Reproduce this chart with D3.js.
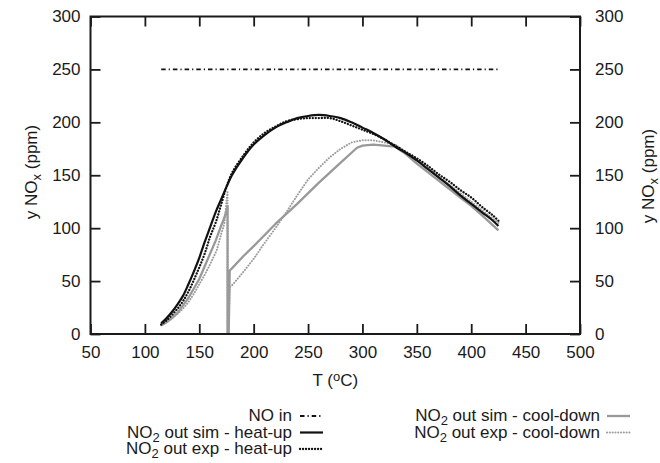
<!DOCTYPE html>
<html>
<head>
<meta charset="utf-8">
<script src="https://cdn.jsdelivr.net/npm/d3@7/dist/d3.min.js"></script>
<style>
  body { margin: 0; background: #fff; }
  text { font-family: "Liberation Sans", Arial, Helvetica, sans-serif; fill: #1a1a1a; }
</style>
</head>
<body>
<div id="wrapper"></div>
<script>
// values: [T (°C), y NOx (ppm)]
const noIn = [[115, 250], [425, 250]];

const simHeatUp = [[115,10],[120,15],[125,21],[130,28],[135,36],[140,47],[145,59],[150,72],[155,87],
  [160,101],[165,115],[170,127],[175,139],[180,150],[190,166],[200,179],[210,188],[220,195],[230,200],
  [240,204],[250,206],[260,207],[270,206],[280,204],[290,200],[300,195],[310,190],[320,184],[330,177],
  [340,171],[350,164],[360,156],[370,148],[380,140],[390,131],[400,123],[410,115],[420,107],[425,102]];

const expHeatUp = [[115,9],[120,13],[125,18],[130,24],[135,31],[140,40],[145,51],[150,63],[155,76],
  [160,92],[165,105],[170,122],[175,139],[180,152],[190,168],[200,181],[210,190],[220,196],[230,201],
  [240,203],[250,204],[260,204],[270,204],[280,201],[290,197],[300,193],[310,189],[320,184],[330,178],
  [340,172],[350,166],[360,159],[370,151],[380,144],[390,136],[400,129],[410,120],[420,112],[425,107]];

const simCoolDown = [[425,98],[410,112],[400,121],[390,129],[380,137],[370,145],[360,153],[350,161],
  [340,170],[330,177],[320,178],[310,179],[300,178],[295,176],[280,162],[260,143],[240,123],[220,104],
  [200,83],[190,73],[180,62],[178,60],[177,0],[176,0],[176,121],[175,116],[172,107],[170,102],[165,88],
  [160,76],[155,64],[150,52],[145,43],[140,34],[135,27],[130,20],[125,15],[120,11],[115,8]];

const expCoolDown = [[425,105],[410,117],[400,125],[390,133],[380,141],[370,149],[360,157],[350,164],
  [340,172],[330,179],[320,181],[310,183],[300,183],[290,181],[280,175],[270,167],[260,157],[250,146],
  [240,131],[230,115],[220,100],[210,86],[200,71],[190,58],[181,47],[178,44],[177,0],[176,0],[176,134],
  [175,125],[173,104],[170,94],[166,79],[160,66],[155,56],[150,47],[145,38],[140,30],[135,24],[130,19],
  [123,14],[115,8]];

const xTicks = [50, 100, 150, 200, 250, 300, 350, 400, 450, 500];
const yTicks = [0, 50, 100, 150, 200, 250, 300];

const legendLeft = ["NO in", "NO_2 out sim - heat-up", "NO_2 out exp - heat-up"];
const legendRight = ["NO_2 out sim - cool-down", "NO_2 out exp - cool-down"];

function buildPlot() {
  const dimension = {
    width: 660,
    height: 463,
    margin: { top: 16.5, left: 90.5, bottom: 129, right: 80 }
  };
  dimension.boundedWidth = dimension.width - dimension.margin.left - dimension.margin.right;
  dimension.boundedHeight = dimension.height - dimension.margin.top - dimension.margin.bottom;

  const svg = d3.select("#wrapper").append("svg")
    .attr("width", dimension.width)
    .attr("height", dimension.height);

  svg.append("clipPath").attr("id", "plotClip")
    .append("rect")
    .attr("width", dimension.boundedWidth)
    .attr("height", dimension.boundedHeight);

  const bounded = svg.append("g")
    .attr("transform", `translate(${dimension.margin.left},${dimension.margin.top})`);

  const xScaler = d3.scaleLinear().domain([50, 500]).range([0, dimension.boundedWidth]);
  const yScaler = d3.scaleLinear().domain([0, 300]).range([dimension.boundedHeight, 0]);

  // styles for each series
  const styles = {
    noIn: { stroke: "#111", width: 1.8, dash: "4.5,3,1.2,3", cap: "butt" },
    simHeat: { stroke: "#111", width: 2.2, dash: null, cap: "butt" },
    expHeat: { stroke: "#111", width: 2.3, dash: "0.1,2.9", cap: "round" },
    simCool: { stroke: "#999", width: 2.3, dash: null, cap: "butt" },
    expCool: { stroke: "#9c9c9c", width: 2, dash: "0.1,2.7", cap: "round" }
  };

  const smoothLine = d3.line()
    .x(d => xScaler(d[0]))
    .y(d => yScaler(d[1]))
    .curve(d3.curveCatmullRom.alpha(0.5));

  const straightLine = d3.line()
    .x(d => xScaler(d[0]))
    .y(d => yScaler(d[1]));

  const lines = bounded.append("g").attr("clip-path", "url(#plotClip)");

  function drawLine(data, st, gen) {
    lines.append("path")
      .attr("d", gen(data))
      .attr("fill", "none")
      .attr("stroke", st.stroke)
      .attr("stroke-width", st.width)
      .attr("stroke-linecap", st.cap)
      .attr("stroke-linejoin", "round")
      .attr("stroke-dasharray", st.dash);
  }

  drawLine(simCoolDown, styles.simCool, straightLine);
  drawLine(expCoolDown, styles.expCool, straightLine);
  drawLine(expHeatUp, styles.expHeat, smoothLine);
  drawLine(simHeatUp, styles.simHeat, smoothLine);
  drawLine(noIn, styles.noIn, straightLine);

  // axes, gnuplot style: ticks point inwards, labels bottom/left/right
  const styleAxis = g => {
    g.select(".domain").remove();
    g.selectAll(".tick line").attr("stroke", "#1a1a1a").attr("stroke-width", 1.8);
    g.selectAll(".tick text").style("font-size", "17px").attr("fill", "#1a1a1a");
  };

  bounded.append("g")
    .attr("transform", `translate(0,${dimension.boundedHeight})`)
    .call(d3.axisBottom(xScaler).tickValues(xTicks).tickSizeInner(-10).tickSizeOuter(0).tickPadding(12))
    .call(styleAxis);

  bounded.append("g")
    .call(d3.axisTop(xScaler).tickValues(xTicks).tickSizeInner(-10).tickSizeOuter(0).tickFormat(""))
    .call(styleAxis);

  bounded.append("g")
    .call(d3.axisLeft(yScaler).tickValues(yTicks).tickSizeInner(-10).tickSizeOuter(0).tickPadding(10))
    .call(styleAxis);

  bounded.append("g")
    .attr("transform", `translate(${dimension.boundedWidth},0)`)
    .call(d3.axisRight(yScaler).tickValues(yTicks).tickSizeInner(-10).tickSizeOuter(0).tickPadding(15))
    .call(styleAxis);

  bounded.append("rect")
    .attr("width", dimension.boundedWidth)
    .attr("height", dimension.boundedHeight)
    .attr("fill", "none")
    .attr("stroke", "#1a1a1a")
    .attr("stroke-width", 2);

  // text with NO_2 / NO_x subscripts
  function richText(sel, label) {
    label.split(/(_\w)/).forEach(part => {
      if (part.startsWith("_")) {
        sel.append("tspan").text(part.slice(1))
          .attr("baseline-shift", "-30%")
          .style("font-size", "13px");
      } else if (part.length) {
        sel.append("tspan").text(part);
      }
    });
  }

  // y titles
  [[37, 172], [653.5, 176]].forEach(([px, py]) => {
    const t = svg.append("text")
      .attr("transform", `translate(${px},${py}) rotate(-90)`)
      .attr("text-anchor", "middle")
      .style("font-size", "17px");
    richText(t, "y NO_x (ppm)");
  });

  // x title with superscript o
  const xt = svg.append("text")
    .attr("x", dimension.margin.left + dimension.boundedWidth / 2)
    .attr("y", 386)
    .attr("text-anchor", "middle")
    .style("font-size", "17px");
  xt.append("tspan").text("T (");
  xt.append("tspan").text("o").attr("baseline-shift", "40%").style("font-size", "13px");
  xt.append("tspan").text("C)");

  // legend
  const leftStyles = [styles.noIn, styles.simHeat, styles.expHeat];
  const rightStyles = [styles.simCool, styles.expCool];
  const rowY = [421, 437.5, 454];

  function legendColumn(labels, sts, textRight, lineX0, lineX1) {
    labels.forEach((lab, i) => {
      const t = svg.append("text")
        .attr("x", textRight)
        .attr("y", rowY[i])
        .attr("text-anchor", "end")
        .style("font-size", "17px");
      richText(t, lab);
      svg.append("line")
        .attr("x1", lineX0).attr("x2", lineX1)
        .attr("y1", rowY[i] - 5).attr("y2", rowY[i] - 5)
        .attr("stroke", sts[i].stroke)
        .attr("stroke-width", sts[i].width)
        .attr("stroke-linecap", sts[i].cap)
        .attr("stroke-dasharray", sts[i].dash);
    });
  }
  legendColumn(legendLeft, leftStyles, 292, 300, 323);
  legendColumn(legendRight, rightStyles, 600, 607, 630);
}

buildPlot();
</script>
</body>
</html>
